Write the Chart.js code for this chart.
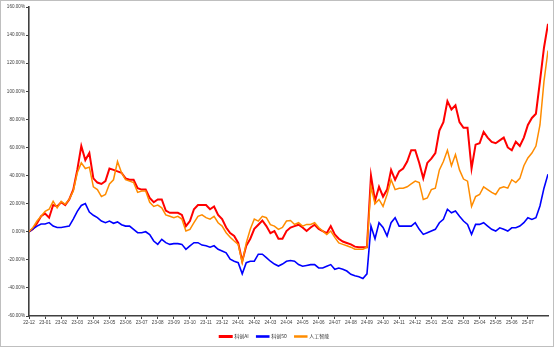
<!DOCTYPE html>
<html>
<head>
<meta charset="utf-8">
<script src="https://cdn.jsdelivr.net/npm/chart.js@4/dist/chart.umd.min.js"></script>
<style>
  html, body { margin: 0; padding: 0; background: #fff; }
  #wrap { width: 552px; height: 345px; border: 1px solid #bfbfbf; position: relative; }
</style>
</head>
<body>
<div id="wrap"><canvas id="chart" width="552" height="345"></canvas></div>
<script>
// month tick labels (x = months since start of 22-12)
const monthLabels = ['22-12', '23-01', '23-02', '23-03', '23-04', '23-05', '23-06', '23-07',
    '23-08', '23-09', '23-10', '23-11', '23-12', '24-01', '24-02', '24-03', '24-04', '24-05',
    '24-06', '24-07', '24-08', '24-09', '24-10', '24-11', '24-12', '25-01', '25-02', '25-03',
    '25-04', '25-05', '25-06', '25-07'];

// series, one value per week (cumulative return, %)
const kcAI = [0, 2, 6, 11, 13, 10, 19, 18, 21, 19, 23, 30, 44, 61, 51, 56, 38, 35, 34, 36,
    45, 44, 43, 42, 38, 37, 37, 31, 30, 30, 24, 21, 23, 23, 15, 13.5, 13.5, 13.5, 12, 4,
    7.6, 16, 19, 19, 19, 16, 18, 12, 9, 3, -1, -3, -8, -21, -10, -5, 2, 5, 8, 4,
    -1, 0.5, -5, -5, 0.5, 3, 4, 5, 3, 0.5, 3, 5, 2, 0.5, -1, 4, -2, -5, -7, -8,
    -9, -10.6, -11, -11, -11, 40, 22, 32, 25, 30, 44, 37, 43, 45, 50, 58, 58, 49, 38, 49,
    52, 56, 72, 78, 93, 87, 90, 78, 74, 74, 45, 62, 63, 71, 67, 64, 63, 65, 67, 60,
    58, 64, 61, 67, 76, 81, 84, 107, 131, 148];

const kc50 = [0, 2, 4, 5.5, 5.5, 6.5, 4, 3, 3, 3.5, 4, 9, 14.5, 18.7, 20, 14, 11.7, 10, 7.6, 6.4,
    7.6, 6, 7, 5, 4, 4, 1.6, -0.7, -0.7, 0, -2, -6.6, -9, -5.4, -7.8, -9, -8.5, -8.5, -9, -12.5,
    -10, -7.8, -7.8, -9.5, -10, -11, -10, -12.5, -13.7, -15, -19.6, -21, -22, -30, -22, -21, -21, -16, -16, -18.4,
    -21, -23, -24.4, -23, -21, -20.5, -21, -23.4, -24.6, -24, -23.4, -23.4, -25.8, -25.8, -24.6, -23.4, -26.7, -25.8, -26.7, -28,
    -30.3, -31.4, -32, -33.3, -30, 4, -5, 6.4, 3, -3, 6.4, 10, 4, 4, 4, 4, 6.4, 1.7, -1.9, -0.7,
    0.5, 1.7, 6.4, 8.8, 16, 13.5, 14.7, 11, 7.6, 5.2, -1.9, 5.2, 5.2, 6.4, 4, 1.7, 0.5, 2.8, 1.7, 0.5,
    2.8, 2.8, 4, 6.4, 10, 8.8, 10, 18.3, 31, 41];

const aiIndex = [0, 3, 7.6, 11, 14.5, 16, 21.6, 17, 21.6, 19.5, 23, 29, 42, 49, 45, 46, 32, 30, 25, 26.5,
    34, 37, 50, 42, 37, 36, 35, 28, 29, 29, 21, 18, 19, 17, 12, 11, 10, 11, 9, 0.5,
    1.6, 6.4, 11, 12, 10, 9, 11, 6.4, 4, -0.7, -4, -6.6, -9, -22, -8, 1.7, 9, 7.6, 11, 10,
    5, 4, 1.7, 3, 7.6, 8, 5.2, 6.4, 4, 5.2, 5.2, 6.4, 3, 0.5, -2, 0.5, -4, -8, -9, -10,
    -11, -12.5, -12.5, -12.5, -11, 32, 20, 23, 18, 26.5, 37, 30, 31, 31, 32, 34, 36, 35, 23, 24,
    30, 31, 44, 50, 58, 47, 55, 44, 37.5, 36, 18, 25, 26.5, 32, 30, 28, 26.5, 31, 32, 31,
    37, 35, 38, 47, 52.5, 56, 61, 76, 107, 129];

const seriesNames = ['科创AI', '科创50', '人工智能'];
const weekStep = 0.25; // months between points

function toPoints(values) {
    return values.map((v, i) => ({ x: i * weekStep, y: v }));
}

const lastX = (kcAI.length - 1) * weekStep;
const tickFont = { family: 'Arial, "Liberation Sans", sans-serif', size: 4.6 };

const ctx = document.getElementById('chart').getContext('2d');
new Chart(ctx, {
    type: 'line',
    data: {
        datasets: [{
            label: seriesNames[0],
            data: toPoints(kcAI),
            borderColor: '#ff0000',
            backgroundColor: '#ff0000',
            borderWidth: 2,
            order: 2,
        }, {
            label: seriesNames[1],
            data: toPoints(kc50),
            borderColor: '#0000ff',
            backgroundColor: '#0000ff',
            borderWidth: 1.6,
            order: 1,
        }, {
            label: seriesNames[2],
            data: toPoints(aiIndex),
            borderColor: '#ff8c00',
            backgroundColor: '#ff8c00',
            borderWidth: 1.5,
            order: 0,
        }],
    },
    options: {
        responsive: false,
        animation: false,
        events: [],
        elements: { point: { radius: 0 }, line: { tension: 0 } },
        // negative bottom padding lets the legend's own padding hang below the frame
        layout: { padding: { left: 0, top: 6, right: 5, bottom: -3 } },
        plugins: {
            tooltip: { enabled: false },
            legend: {
                position: 'bottom',
                labels: {
                    boxWidth: 12,
                    boxHeight: 1,
                    padding: 8,
                    color: '#333',
                    font: { family: '"Noto Sans CJK SC", sans-serif', size: 5 },
                    sort: (a, b) => a.datasetIndex - b.datasetIndex,
                },
            },
        },
        scales: {
            x: {
                type: 'linear',
                min: 0,
                max: lastX,
                afterBuildTicks: (scale) => {
                    scale.ticks = monthLabels.map((_, i) => ({ value: i }));
                },
                afterFit: (scale) => { scale.height = 10; },
                grid: { drawOnChartArea: false, tickLength: 3, color: '#404040', lineWidth: 1 },
                border: { color: '#404040', width: 1.6 },
                ticks: {
                    autoSkip: false,
                    maxRotation: 0,
                    padding: 1,
                    color: '#404040',
                    font: tickFont,
                    callback: (value) => monthLabels[value],
                },
            },
            y: {
                min: -60,
                max: 160,
                afterFit: (scale) => { scale.width = 28; },
                grid: { drawOnChartArea: false, tickLength: 3, color: '#404040', lineWidth: 1 },
                border: { color: '#404040', width: 1.6 },
                ticks: {
                    stepSize: 20,
                    padding: 1,
                    color: '#404040',
                    font: tickFont,
                    callback: (value) => value.toFixed(2) + '%',
                },
            },
        },
    },
});
</script>
</body>
</html>
